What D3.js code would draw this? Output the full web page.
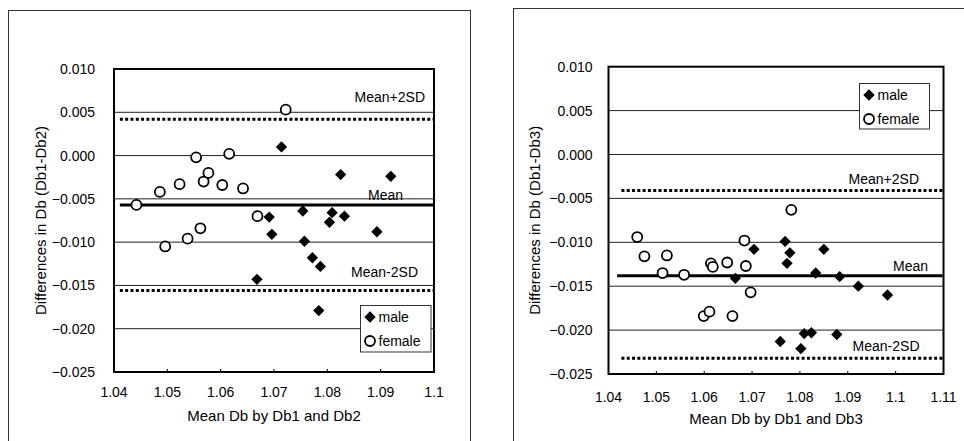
<!DOCTYPE html>
<html>
<head>
<meta charset="utf-8">
<script src="https://cdn.jsdelivr.net/npm/d3@7"></script>
<style>
  html, body { margin: 0; padding: 0; background: #fff; }
  svg { display: block; font-family: "Liberation Sans", Arial, sans-serif; }
</style>
</head>
<body>
<svg id="chart" width="964" height="441"></svg>
<script>
// ---------- DATA ----------
const yTicks = [0.010, 0.005, 0.000, -0.005, -0.010, -0.015, -0.020, -0.025];
const leftXTicks = [1.04, 1.05, 1.06, 1.07, 1.08, 1.09, 1.1];
const rightXTicks = [1.04, 1.05, 1.06, 1.07, 1.08, 1.09, 1.1, 1.11];

// Left panel: Db1 - Db2
const leftMale = [
  [1.0668, -0.0143], [1.0691, -0.0071], [1.0696, -0.0091], [1.0714, 0.0010],
  [1.0754, -0.0064], [1.0757, -0.0099], [1.0772, -0.0118], [1.0784, -0.0179],
  [1.0787, -0.0128], [1.0804, -0.0077], [1.0809, -0.0066], [1.0825, -0.0022],
  [1.0832, -0.0070], [1.0893, -0.0088], [1.0919, -0.0024]
];
const leftFemale = [
  [1.0442, -0.0057], [1.0486, -0.0042], [1.0496, -0.0105], [1.0523, -0.0033],
  [1.0538, -0.0096], [1.0554, -0.0002], [1.0562, -0.0084], [1.0568, -0.0030],
  [1.0577, -0.0020], [1.0603, -0.0034], [1.0616, 0.0002], [1.0642, -0.0038],
  [1.0669, -0.0070], [1.0722, 0.0053]
];
const leftLimits = [0.0042, -0.0057, -0.0156];   // Mean+2SD, Mean, Mean-2SD

// Right panel: Db1 - Db3
const rightMale = [
  [1.0665, -0.0141], [1.0704, -0.0108], [1.0759, -0.0213], [1.0769, -0.0099],
  [1.0779, -0.0112], [1.0773, -0.0124], [1.0802, -0.0221], [1.0809, -0.0204],
  [1.0824, -0.0203], [1.0833, -0.0135], [1.0850, -0.0108], [1.0877, -0.0205],
  [1.0883, -0.0139], [1.0922, -0.0150], [1.0983, -0.0160]
];
const rightFemale = [
  [1.0460, -0.0094], [1.0475, -0.0116], [1.0513, -0.0135], [1.0522, -0.0115],
  [1.0558, -0.0137], [1.0599, -0.0184], [1.0611, -0.0179], [1.0614, -0.0124],
  [1.0618, -0.0128], [1.0648, -0.0123], [1.0659, -0.0184], [1.0684, -0.0098],
  [1.0687, -0.0127], [1.0697, -0.0157], [1.0782, -0.0063]
];
const rightLimits = [-0.0041, -0.0138, -0.0232];

const limitNames = ["Mean+2SD", "Mean", "Mean-2SD"];
const legendNames = ["male", "female"];

// ---------- DRAW ----------
const svg = d3.select("#chart");
const FS = 14;

const panels = [
  {
    frame: [8.5, 10.5, 470.5, 460], left: 114, top: 69, right: 434, bottom: 372,
    xDomain: [1.04, 1.1], xTicks: leftXTicks, male: leftMale, female: leftFemale,
    limits: leftLimits, lineStart: [1.0411, 1.0411, 1.0411],
    limitLabel: [[425, 97], [403, 194.5], [418, 272]],
    legend: [360.5, 305.5, 70.5, 46.5],
    yLabelGap: 19, xLabelY: 392, xTitleY: 415, yTitleX: 40,
    yTitle: "Differences in Db (Db1-Db2)", xTitle: "Mean Db by Db1 and Db2"
  },
  {
    frame: [513.5, 8.5, 990, 460], left: 608.5, top: 66.7, right: 943.5, bottom: 374,
    xDomain: [1.04, 1.11], xTicks: rightXTicks, male: rightMale, female: rightFemale,
    limits: rightLimits, lineStart: [1.0427, 1.0418, 1.0427],
    limitLabel: [[919, 179], [928, 265.7], [919.5, 345.7]],
    legend: [859.5, 83.5, 70, 45.5],
    yLabelGap: 16, xLabelY: 396.5, xTitleY: 418.3, yTitleX: 534,
    yTitle: "Differences in Db (Db1-Db3)", xTitle: "Mean Db by Db1 and Db3"
  }
];

const diamond = d3.symbol().type(d3.symbolSquare).size(64);

panels.forEach(p => {
  const g = svg.append("g");
  // outer frame
  g.append("rect")
    .attr("x", p.frame[0]).attr("y", p.frame[1])
    .attr("width", p.frame[2] - p.frame[0]).attr("height", p.frame[3] - p.frame[1])
    .attr("fill", "none").attr("stroke", "#333").attr("stroke-width", 1);

  const x = d3.scaleLinear().domain(p.xDomain).range([p.left, p.right]);
  const y = d3.scaleLinear().domain([-0.025, 0.010]).range([p.bottom, p.top]);

  // gridlines
  g.selectAll(".grid").data(yTicks.slice(1, -1)).enter().append("line")
    .attr("x1", p.left).attr("x2", p.right)
    .attr("y1", d => y(d)).attr("y2", d => y(d))
    .attr("stroke", "#222").attr("stroke-width", 1);

  // x ticks (inside)
  g.selectAll(".xt").data(p.xTicks.slice(1, -1)).enter().append("line")
    .attr("x1", d => x(d)).attr("x2", d => x(d))
    .attr("y1", p.bottom).attr("y2", p.bottom - 3)
    .attr("stroke", "#000").attr("stroke-width", 1);

  // y tick labels
  const yFmt = d3.format(".3f");
  g.selectAll(".yl").data(yTicks).enter().append("text")
    .attr("x", p.left - p.yLabelGap).attr("y", d => y(d))
    .attr("text-anchor", "end").attr("dominant-baseline", "central")
    .attr("font-size", FS).attr("fill", "#000")
    .text(d => yFmt(d));

  // x tick labels
  g.selectAll(".xl").data(p.xTicks).enter().append("text")
    .attr("x", d => x(d)).attr("y", p.xLabelY)
    .attr("text-anchor", "middle").attr("dominant-baseline", "central")
    .attr("font-size", FS).attr("fill", "#000")
    .text(d => String(+d.toFixed(3)));

  // axis titles
  g.append("text")
    .attr("x", (p.left + p.right) / 2).attr("y", p.xTitleY)
    .attr("text-anchor", "middle").attr("dominant-baseline", "central")
    .attr("font-size", 15).text(p.xTitle);
  g.append("text")
    .attr("transform", `translate(${p.yTitleX},${(p.top + p.bottom) / 2}) rotate(-90)`)
    .attr("text-anchor", "middle").attr("dominant-baseline", "central")
    .attr("font-size", 15).text(p.yTitle);

  // limit lines
  p.limits.forEach((v, i) => {
    g.append("line")
      .attr("x1", x(p.lineStart[i])).attr("x2", p.right - 1)
      .attr("y1", y(v)).attr("y2", y(v))
      .attr("stroke", "#000")
      .attr("stroke-width", 3)
      .attr("stroke-dasharray", i === 1 ? null : "3,2.3");
    g.append("text")
      .attr("x", p.limitLabel[i][0]).attr("y", p.limitLabel[i][1])
      .attr("text-anchor", "end").attr("dominant-baseline", "central")
      .attr("font-size", FS).text(limitNames[i]);
  });

  // legend
  const [lx, ly, lw, lh] = p.legend;
  g.append("rect").attr("x", lx).attr("y", ly).attr("width", lw).attr("height", lh)
    .attr("fill", "#fff").attr("stroke", "#333").attr("stroke-width", 1);
  g.append("path").attr("d", diamond)
    .attr("transform", `translate(${lx + 9.5},${ly + 11.5}) rotate(45)`)
    .attr("fill", "#000");
  g.append("circle").attr("cx", lx + 9.5).attr("cy", ly + 35.5)
    .attr("r", 5).attr("fill", "#fff").attr("stroke", "#000").attr("stroke-width", 1.8);
  g.append("text").attr("x", lx + 18).attr("y", ly + 11.5)
    .attr("dominant-baseline", "central").attr("font-size", FS).text(legendNames[0]);
  g.append("text").attr("x", lx + 18).attr("y", ly + 35.5)
    .attr("dominant-baseline", "central").attr("font-size", FS).text(legendNames[1]);

  // points
  g.selectAll(".female").data(p.female).enter().append("circle")
    .attr("cx", d => x(d[0])).attr("cy", d => y(d[1])).attr("r", 5)
    .attr("fill", "#fff").attr("stroke", "#000").attr("stroke-width", 1.8);
  g.selectAll(".male").data(p.male).enter().append("path")
    .attr("d", diamond)
    .attr("transform", d => `translate(${x(d[0])},${y(d[1])}) rotate(45)`)
    .attr("fill", "#000");

  // plot border
  g.append("rect")
    .attr("x", p.left).attr("y", p.top)
    .attr("width", p.right - p.left).attr("height", p.bottom - p.top)
    .attr("fill", "none").attr("stroke", "#000").attr("stroke-width", 2);
});
</script>
</body>
</html>
